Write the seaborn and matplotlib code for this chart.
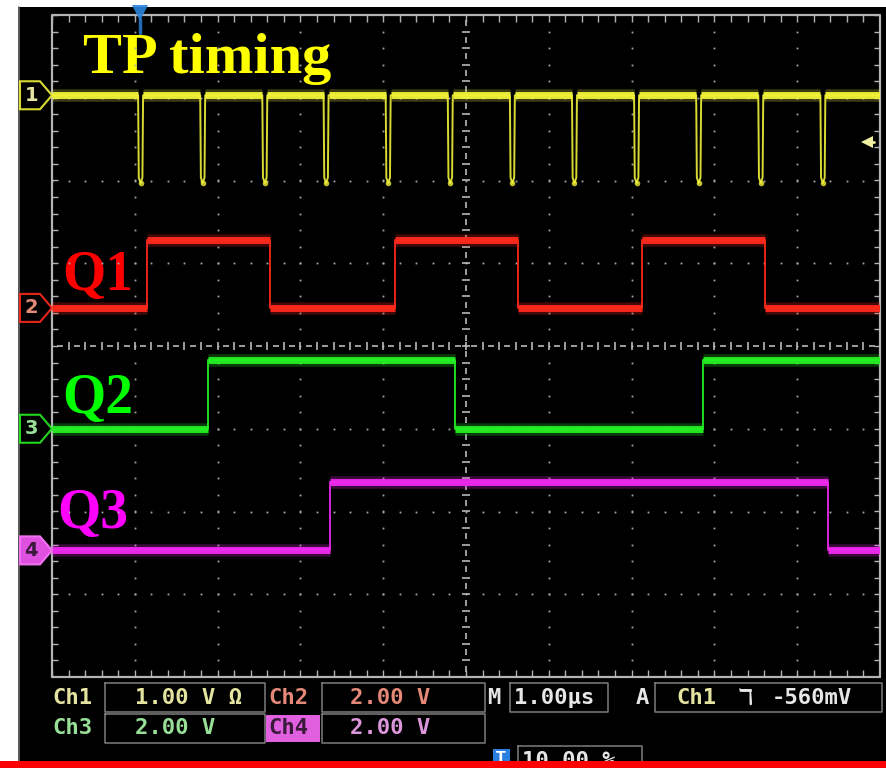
import numpy as np
import pandas as pd
import matplotlib
matplotlib.use("Agg")
import matplotlib.pyplot as plt
from matplotlib.patches import Polygon, Rectangle
import seaborn as sns

# ---------------- acquisition (time in µs from left screen edge) ----------------
tp_dip_times = [1.04, 1.79, 2.54, 3.28, 4.03, 4.78, 5.53, 6.28, 7.03, 7.78, 8.53, 9.28]
tp_dip_depth_v = -1.06
tp_dip_width = 0.06
q1_edges = [1.15, 2.63, 4.14, 5.63, 7.13, 8.61]
q2_edges = [1.88, 4.87, 7.86]
q3_edges = [3.36, 9.37]
q_high_v = [1.65, 1.66, 1.66]

channel_names = ["TP timing", "Q1", "Q2", "Q3"]
channel_ids = ["1", "2", "3", "4"]
volts_per_div = [1.00, 2.00, 2.00, 2.00]
channel_offset_div = [3.03, 0.46, -1.00, -2.47]
trigger_level_v = -0.56
trigger_time = 1.06
time_per_div_us = 1.00
trigger_pos_pct = 10.00

# ---------------- styling ----------------
trace_colors = ["#f2f23a", "#ff2a1c", "#25f025", "#f02af0"]
label_colors = ["#ffff00", "#ff0000", "#00ff00", "#ff00ff"]
status_colors = ["#e4e4a0", "#e48878", "#98e098", "#dc96dc"]
grid_col = "#a8a8a8"
t_span = (0.0, 10 * time_per_div_us)

sns.set_theme(style="white")
plt.rcParams["font.family"] = ["DejaVu Sans"]

W, H = 886, 768
fig = plt.figure(figsize=(W / 100, H / 100), dpi=100)
fig.patch.set_facecolor("white")

# screen background in pixel units
scr = fig.add_axes([0, 0, 1, 1])
scr.set_xlim(0, W)
scr.set_ylim(H, 0)
scr.axis("off")
scr.add_patch(Rectangle((18, 7), W - 18, 755, facecolor="black", edgecolor="none"))
scr.plot([19, 19], [7, 762], color="#6a6a6a", lw=1.2)

# graticule axes: 10 x 8 divisions
gx0, gx1, gy0, gy1 = 52, 880, 15, 677
ax = fig.add_axes([gx0 / W, (H - gy1) / H, (gx1 - gx0) / W, (gy1 - gy0) / H])
ax.set_xlim(*t_span)
ax.set_ylim(-4, 4)
ax.axis("off")
ax.patch.set_alpha(0)
ax.set_zorder(2)

# ---- graticule ----
minor = np.arange(0, 10.001, 0.2)
minor_y = np.arange(-4, 4.001, 0.2)
for gx in range(1, 10):
    if gx == 5:
        continue
    ax.plot(np.full_like(minor_y, gx), minor_y, ls="none", marker="s", ms=1.3,
            color=grid_col, mew=0)
for gy in range(-3, 4):
    if gy == 0:
        continue
    ax.plot(minor, np.full_like(minor, gy), ls="none", marker="s", ms=1.3,
            color=grid_col, mew=0)
# centre lines with ticks
ax.plot(minor, np.zeros_like(minor), ls="none", marker="|", ms=6, mew=1.1, color="#c8c8c8")
ax.plot(minor + 0.1, np.zeros_like(minor), ls="none", marker="_", ms=5, mew=1.1, color="#c8c8c8")
ax.plot(np.full_like(minor_y, 5), minor_y, ls="none", marker="_", ms=6, mew=1.1, color="#c8c8c8")
ax.plot(np.full_like(minor_y, 5), minor_y + 0.1, ls="none", marker="|", ms=5, mew=1.1, color="#c8c8c8")
# border with inward ticks
ax.plot([0, 10, 10, 0, 0], [-4, -4, 4, 4, -4], color="#b4b4b4", lw=1.6, clip_on=False)
ax.plot(np.full_like(minor_y, 0.03), minor_y, ls="none", marker="_", ms=6, mew=1, color="#b4b4b4")
ax.plot(np.full_like(minor_y, 9.97), minor_y, ls="none", marker="_", ms=6, mew=1, color="#b4b4b4")
ax.plot(minor, np.full_like(minor, -3.96), ls="none", marker="|", ms=6, mew=1, color="#b4b4b4")
ax.plot(minor, np.full_like(minor, 3.96), ls="none", marker="|", ms=6, mew=1, color="#b4b4b4")


def to_div(v, ch):
    return channel_offset_div[ch] + np.asarray(v, dtype=float) / volts_per_div[ch]


def step_trace(edges, high):
    xs, ys, lvl = [t_span[0]], [0.0], 0.0
    segs = []
    start = t_span[0]
    for e in edges:
        segs.append((start, e, lvl))
        new = high if lvl == 0.0 else 0.0
        xs += [e, e]
        ys += [lvl, new]
        lvl = new
        start = e
    xs.append(t_span[1])
    ys.append(lvl)
    segs.append((start, t_span[1], lvl))
    return np.array(xs), np.array(ys), segs


def dip_trace(dips, depth, width):
    xs, ys = [t_span[0]], [0.0]
    segs = []
    start = t_span[0]
    for d in dips:
        segs.append((start, d, 0.0))
        xs += [d, d + 0.008, d + width * 0.5, d + width - 0.008, d + width]
        ys += [0.0, depth * 0.94, depth, depth * 0.94, 0.0]
        start = d + width
    xs.append(t_span[1])
    ys.append(0.0)
    segs.append((start, t_span[1], 0.0))
    return np.array(xs), np.array(ys), segs


traces = [dip_trace(tp_dip_times, tp_dip_depth_v, tp_dip_width)]
for edges, hv in zip([q1_edges, q2_edges, q3_edges], q_high_v):
    traces.append(step_trace(edges, hv))

for ch, (xs, ys, segs) in enumerate(traces):
    col = trace_colors[ch]
    df = pd.DataFrame({"t": xs, "y": to_div(ys, ch)})
    sns.lineplot(data=df, x="t", y="y", ax=ax, color=col, lw=1.4, estimator=None,
                 sort=False, alpha=0.9, zorder=3)
    s0 = np.array([s[0] for s in segs])
    s1 = np.array([s[1] for s in segs])
    sl = to_div([s[2] for s in segs], ch)
    ax.hlines(sl, s0, s1, color=col, lw=9, alpha=0.25, zorder=3)
    ax.hlines(sl, s0, s1, color=col, lw=5, alpha=0.95, zorder=4)
    # dip bottoms glow a little brighter
    if ch == 0:
        ax.plot(np.array(tp_dip_times) + tp_dip_width * 0.5,
                to_div(np.full(len(tp_dip_times), tp_dip_depth_v), 0),
                ls="none", marker="o", ms=4, color=col, alpha=0.8, mew=0, zorder=4)

# channel ground markers (tags on left edge)
px_div_x = 82.8
px_div_y = 82.75
for ch in range(4):
    yc = channel_offset_div[ch]
    xl, xm, xt = -32 / px_div_x, -12 / px_div_x, 0.0
    hh = 14 / px_div_y
    pts = [(xl, yc + hh), (xm, yc + hh), (xt, yc), (xm, yc - hh), (xl, yc - hh)]
    if ch == 3:
        tag = Polygon(pts, closed=True, facecolor="#e050e0", edgecolor="#f070f0",
                      lw=1.5, clip_on=False, zorder=5)
        tcol = "#3a1a3a"
    else:
        tag = Polygon(pts, closed=True, facecolor="black", edgecolor=trace_colors[ch],
                      lw=1.5, clip_on=False, zorder=5, alpha=0.9)
        tcol = status_colors[ch]
    ax.add_patch(tag)
    ax.text(-0.25, yc, channel_ids[ch], color=tcol, fontsize=14, fontweight="bold",
            ha="center", va="center", clip_on=False, zorder=6)

# trigger level arrow (right edge) and trigger position (top)
trig_y = to_div(trigger_level_v, 0)
ax.plot([9.83, 9.93], [trig_y, trig_y], color="#f0f0a0", lw=2, zorder=5)
ax.plot([9.84], [trig_y], marker="<", ms=9, color="#f0f0a0", mew=0, zorder=5)
ax.plot([trigger_time], [4.02], marker="v", ms=12, color="#2a86e0", mew=0,
        clip_on=False, zorder=6, alpha=0.9)
ax.plot([trigger_time, trigger_time], [3.95, 3.78], color="#2a86e0", lw=2.5,
        clip_on=False, zorder=6, alpha=0.8)

# channel labels
label_pos = [(83, 73), (62, 290), (62, 413), (57, 528)]
for ch, (lx, ly) in enumerate(label_pos):
    scr.text(lx, ly, channel_names[ch], color=label_colors[ch], fontsize=42 if ch == 0 else 40,
             fontweight="bold", family=["Liberation Serif", "DejaVu Serif"],
             ha="left", va="baseline", zorder=10)
scr.set_zorder(1)

# ---------------- status readout ----------------
st = fig.add_axes([0, 0, 1, 1])
st.set_xlim(0, W)
st.set_ylim(H, 0)
st.axis("off")
st.patch.set_alpha(0)
st.set_zorder(3)
box_col = "#7c7c7c"
mono = ["DejaVu Sans Mono"]
tw = "bold"


def box(x0, y0, x1, y1):
    st.plot([x0, x1, x1, x0, x0], [y0, y0, y1, y1, y0], color=box_col, lw=1.1)


box(105, 683, 265, 712)
box(322, 683, 485, 712)
box(105, 714, 265, 743)
box(322, 714, 485, 743)
box(510, 683, 608, 712)
box(655, 683, 882, 712)
box(518, 746, 642, 775)
st.add_patch(Rectangle((266, 715), 54, 27, facecolor="#e060e0", edgecolor="none"))

fs = 16
row1, row2 = 698, 728
st.text(52, row1, "Ch1", color=status_colors[0], fontsize=fs, family=mono, weight=tw, va="center")
st.text(135, row1, f"{volts_per_div[0]:.2f} V \u03a9", color=status_colors[0], fontsize=fs,
        family=mono, weight=tw, va="center")
st.text(268, row1, "Ch2", color=status_colors[1], fontsize=fs, family=mono, weight=tw, va="center")
st.text(350, row1, f"{volts_per_div[1]:.2f} V", color=status_colors[1], fontsize=fs,
        family=mono, weight=tw, va="center")
st.text(52, row2, "Ch3", color=status_colors[2], fontsize=fs, family=mono, weight=tw, va="center")
st.text(135, row2, f"{volts_per_div[2]:.2f} V", color=status_colors[2], fontsize=fs,
        family=mono, weight=tw, va="center")
st.text(268, row2, "Ch4", color="#3a1a3a", fontsize=fs, family=mono, weight=tw, va="center")
st.text(350, row2, f"{volts_per_div[3]:.2f} V", color=status_colors[3], fontsize=fs,
        family=mono, weight=tw, va="center")
st.text(487, row1, "M", color="#e6e6e6", fontsize=fs, family=mono, weight=tw, va="center")
st.text(514, row1, f"{time_per_div_us:.2f}\u00b5s", color="#e6e6e6", fontsize=fs,
        family=mono, weight=tw, va="center")
st.text(636, row1, "A", color="#e6e6e6", fontsize=fs, family=mono, weight=tw, va="center")
st.text(676, row1, "Ch1", color=status_colors[0], fontsize=fs, family=mono, weight=tw,
        va="center")
st.text(738, row1, "\u2138", color="#e6e6e6", fontsize=fs, family=["DejaVu Sans"],
        weight=tw, va="center")
st.text(772, row1, f"{trigger_level_v * 1000:.0f}mV", color="#e6e6e6", fontsize=fs,
        family=mono, weight=tw, va="center")
st.add_patch(Rectangle((493, 749), 17, 14, facecolor="#2a80e0", edgecolor="none"))
st.text(501, 757, "T", color="white", fontsize=10, fontweight="bold", ha="center",
        va="center")
st.text(522, 761, f"{trigger_pos_pct:.2f} %", color="#e6e6e6", fontsize=fs,
        family=mono, weight=tw, va="center")

# red strip along the bottom edge
top = fig.add_axes([0, 0, 1, 1])
top.set_xlim(0, W)
top.set_ylim(H, 0)
top.axis("off")
top.patch.set_alpha(0)
top.set_zorder(10)
top.add_patch(Rectangle((0, 761), W, 8, facecolor="#ff0000", edgecolor="none"))

fig.savefig("out.png", dpi=100)
